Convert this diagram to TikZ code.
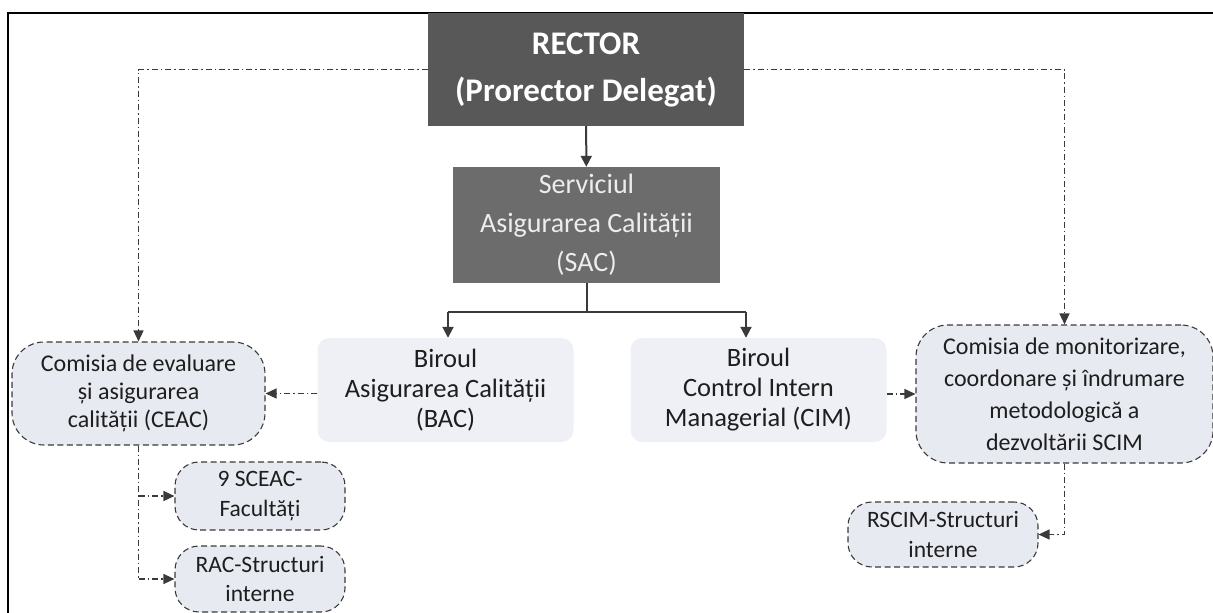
\documentclass[tikz,border=0pt]{standalone}
\usepackage{fontspec}
\setmainfont{Carlito}
\usetikzlibrary{arrows.meta}
\definecolor{rectorgray}{HTML}{585858}
\definecolor{sacgray}{HTML}{6C6C6C}
\definecolor{sactext}{HTML}{EDEDED}
\definecolor{bureaufill}{HTML}{EEF0F5}
\definecolor{commfill}{HTML}{E7EAF1}
\definecolor{linegray}{HTML}{3A3A3A}
\definecolor{textdark}{HTML}{1E1E1E}
\begin{document}
\begin{tikzpicture}[x=1pt,y=-1pt,
  rectorbox/.style={fill=rectorgray, text=white, align=center, inner sep=0pt,
    font=\bfseries\fontsize{33}{47}\selectfont, minimum width=316pt, minimum height=113pt},
  sacbox/.style={fill=sacgray, text=sactext, align=center, inner sep=0pt,
    font=\fontsize{28}{39}\selectfont, minimum width=267pt, minimum height=116pt},
  bureau/.style={fill=bureaufill, rounded corners=12pt, align=center, inner sep=0pt, text=textdark,
    font=\fontsize{26.5}{30}\selectfont, minimum width=256pt, minimum height=104pt},
  comm/.style={draw=linegray, line width=1.1pt, dash pattern=on 6pt off 3.5pt, fill=commfill,
    rounded corners=32pt, align=center, inner sep=0pt, text=textdark},
  subbox/.style={comm, rounded corners=24pt, font=\fontsize{23.5}{29.5}\selectfont,
    minimum width=170pt},
  solidarrow/.style={draw=linegray, line width=2pt, -{Triangle[length=11pt,width=11pt]}},
  solidline/.style={draw=linegray, line width=2pt},
  dd/.style={draw=linegray, line width=1.3pt, dash pattern=on 6pt off 3pt on 1.5pt off 3pt},
  ddarrow/.style={dd, -{Triangle[length=11pt,width=10pt]}}
]
\useasboundingbox (0,0) rectangle (1213,613);
% frame
\draw[black, line width=2pt] (8,613) -- (8,13) -- (1213,13);

\node[rectorbox] (rector) at (586,69.5) {RECTOR\\(Prorector Delegat)};
\node[sacbox] (sac) at (586.5,225) {Serviciul\\Asigurarea Calității\\(SAC)};
\node[bureau] (bac) at (445.5,390) {Biroul\\Asigurarea Calității\\(BAC)};
\node[bureau] (cim) at (758.5,390) {Biroul\\Control Intern\\Managerial (CIM)};
\node[comm, font=\fontsize{24}{28}\selectfont, minimum width=253pt, minimum height=103pt] (ceac) at (138.5,393.5)
  {Comisia de evaluare\\și asigurarea\\calității (CEAC)};
\node[comm, font=\fontsize{24}{32}\selectfont, minimum width=297pt, minimum height=138pt] (scim) at (1064.5,394)
  {Comisia de monitorizare,\\coordonare și îndrumare\\metodologică a\\dezvoltării SCIM};
\node[subbox, minimum height=68pt] (sceac) at (260,496) {9 SCEAC-\\Facultăți};
\node[subbox, minimum height=66pt] (rac) at (260,579) {RAC-Structuri\\interne};
\node[subbox, minimum width=190pt, minimum height=65pt] (rscim) at (943,534.5) {RSCIM-Structuri\\interne};

% solid connectors
\draw[solidarrow] (rector) -- (sac);
\coordinate (jl) at (448,312);
\coordinate (jr) at (746,312);
\draw[solidline] (sac.south) -- (sac.south |- jl);
\draw[solidline] (jl) -- (jr);
\draw[solidarrow] (jl) -- (jl |- bac.north);
\draw[solidarrow] (jr) -- (jr |- cim.north);

% dash-dot connectors
\draw[ddarrow] (rector.west) -| (ceac.north);
\draw[ddarrow] (rector.east) -| (scim.north);
\draw[ddarrow] (bac.west |- ceac.east) -- (ceac.east);
\draw[ddarrow] (cim.east |- scim.west) -- (scim.west);
\draw[dd] (ceac.south) -- (ceac.south |- rac.west);
\draw[ddarrow] (ceac.south |- sceac.west) -- (sceac.west);
\draw[ddarrow] (ceac.south |- rac.west) -- (rac.west);
\draw[ddarrow] (scim.south) |- (rscim.east);
\end{tikzpicture}
\end{document}
